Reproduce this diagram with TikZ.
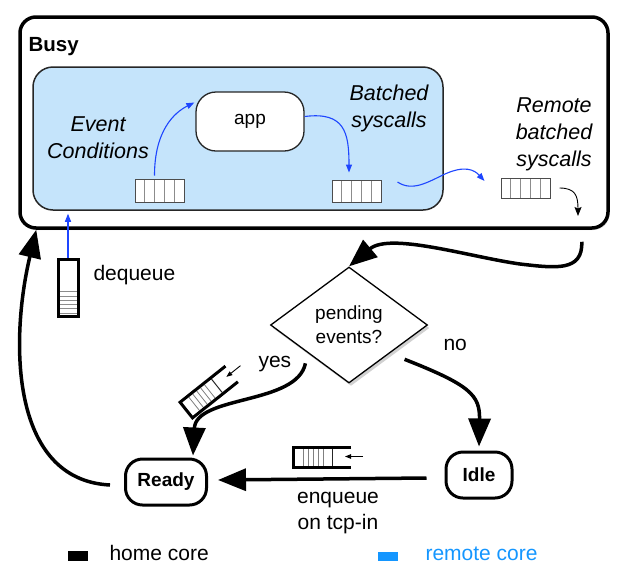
\documentclass[tikz,border=0pt]{standalone}
\usepackage{fontspec}
\setmainfont{Liberation Sans}
\usetikzlibrary{arrows.meta,shapes.geometric,calc,shadows}
\definecolor{panelblue}{RGB}{197,228,251}
\definecolor{arrowblue}{RGB}{30,70,255}
\definecolor{legendblue}{RGB}{20,150,255}
\begin{document}
\begin{tikzpicture}[x=1pt,y=-1pt,
  bigarrow/.style={line width=3.5pt,-{Triangle[length=28pt,width=22pt]}},
  bluearrow/.style={arrowblue,line width=1.1pt,-{Triangle[length=8pt,width=6pt]}},
  thinarrow/.style={line width=0.9pt,-{Stealth[length=9pt,width=7pt,inset=1.5pt]}},
  statebox/.style={draw,line width=3pt,rounded corners=17pt,inner sep=0pt,fill=white,
    font=\fontsize{19}{22}\selectfont\bfseries},
  lbl/.style={font=\fontsize{21}{26}\selectfont,align=center},
  itlbl/.style={font=\fontsize{21.5}{27}\selectfont\itshape,align=center},
  cellqueue/.style={draw=black!70,fill=white,line width=1pt,inner sep=0pt,
    path picture={\foreach \i in {1,...,4}{\draw[black!45,line width=0.8pt]
      ($(path picture bounding box.south west)!\i/5!(path picture bounding box.south east)$) --
      ($(path picture bounding box.north west)!\i/5!(path picture bounding box.north east)$);}}},
  tcpq/.pic={
    \fill[white] (-29,-10) rectangle (12,10);
    \foreach \x in {-19,-14,-9,-4,1}{\draw[black!50,line width=0.8pt] (\x,-8.5) -- (\x,8.5);}
    \draw[black!85,line width=1pt] (10,-8.5) -- (10,8.5);
    \draw[line width=3pt] (29,-10) -- (-29,-10) -- (-29,10) -- (29,10);
    \draw[line width=0.9pt,-{Triangle[length=6pt,width=4.5pt]}] (41,-1) -- (23,-1);
  }
]
\useasboundingbox (0,0) rectangle (631,584);

% Busy box
\node[draw,fill=white,line width=3.5pt,rounded corners=16pt,minimum width=588pt,minimum height=211pt,inner sep=0pt,
  drop shadow={shadow xshift=1.5pt,shadow yshift=-2pt,opacity=0.12,fill=black}] (busy) at (314,122.5) {};
\node[anchor=base west,font=\fontsize{20.5}{24}\selectfont\bfseries] (busylbl) at (25,51) {Busy};

% inner panel
\node[draw=black!85,fill=panelblue,line width=1.5pt,rounded corners=20pt,minimum width=410pt,minimum height=143pt,inner sep=0pt] (inner) at (238,138.5) {};
\node[draw=black!85,fill=white,line width=1.3pt,rounded corners=20pt,minimum width=108pt,minimum height=59pt,inner sep=0pt,font=\fontsize{19}{22}\selectfont] (app) at (250,121.5) {app};

\node[cellqueue,minimum width=49pt,minimum height=23pt] (q1) at (159.5,190.5) {};
\node[cellqueue,minimum width=49pt,minimum height=22pt] (q2) at (356.5,191) {};
\node[cellqueue,minimum width=49pt,minimum height=20pt] (q3) at (525.5,188) {};

\node[itlbl,anchor=base] (evt) at (98,158) {Event\\Conditions};
\node[itlbl,anchor=base] (bat) at (389,127) {Batched\\syscalls};
\node[itlbl,anchor=base] (rem) at (554,166) {Remote\\batched\\syscalls};

% blue arrows
\draw[bluearrow] ([xshift=-5pt,yshift=3pt]q1.north) .. controls +(0,-45) and +(-20,10) .. ([xshift=-1pt,yshift=19pt]app.west);
\draw[bluearrow] ([yshift=5pt]app.east) .. controls +(40,-5) and +(0,-40) .. ([xshift=-7.5pt,yshift=7pt]q2.north);
\draw[bluearrow] ([xshift=16pt,yshift=9pt]q2.east) .. controls +(15,10) and +(-17,8) .. (445,174) .. controls +(20,-9) and +(-10,-11) .. ([xshift=-16pt,yshift=7pt]q3.west);

% remote small arrow
\coordinate (rq) at (578,216);
\draw[thinarrow] ([xshift=9pt]q3.east) .. controls +(16,0) and +(0,-20) .. (rq);

% diamond
\node[draw,diamond,shape aspect=1.35,minimum width=157pt,minimum height=116pt,inner sep=0pt,line width=1.3pt,fill=white,align=center,font=\fontsize{19}{24}\selectfont,
  drop shadow={shadow xshift=2pt,shadow yshift=-3pt,opacity=0.18,fill=black}] (dia) at (349,325) {pending\\events?};

% busy -> diamond
\draw[bigarrow] ([xshift=-28pt,yshift=-12pt]busy.south east) .. controls (583,272) and (555,268) .. (520,264) .. controls (470,257) and (390,232) .. (dia.north);

% states
\node[statebox,minimum width=81pt,minimum height=46pt] (ready) at (166,482) {Ready};
\node[statebox,minimum width=66pt,minimum height=46pt] (idle) at (479,475) {Idle};

\draw[bigarrow] ([xshift=16pt,yshift=-5pt]dia.south east) .. controls (470,385) and (480,395) .. ([yshift=4pt]idle.north);
\draw[bigarrow] ([xshift=-4pt,yshift=-9pt]dia.south west) .. controls (297,405) and (196,395) .. ([xshift=27pt,yshift=2pt]ready.north);
\draw[bigarrow] ([xshift=-18pt,yshift=-3pt]idle.west) -- ([xshift=10pt,yshift=2pt]ready.east);
\draw[bigarrow] ([xshift=-14pt,yshift=-3pt]ready.west) .. controls (10,480) and (10,340) .. ([xshift=18pt]busy.south west);

% labels
\node[lbl,anchor=base west] (nolbl) at (440,350) {no};
\node[lbl,anchor=base west] (yeslbl) at (255,367) {yes};
\node[lbl,anchor=base] (enq) at (338,529) {enqueue\\on tcp-in};

% queues
\pic[rotate=38.5] at (209,392) {tcpq};
\pic at (322,457.5) {tcpq};

% dequeue
\node[draw,line width=3pt,fill=white,minimum width=20pt,minimum height=57pt,inner sep=0pt,
  path picture={\foreach \f in {0.06,0.135,0.21,0.285,0.36,0.435}{\draw[black!45,line width=0.9pt]
    ($(path picture bounding box.south west)!\f!(path picture bounding box.north west)$) --
    ($(path picture bounding box.south east)!\f!(path picture bounding box.north east)$);}}] (deq) at (68,288) {};
\draw[bluearrow] (deq.north) -- ([yshift=-3pt]deq.north |- inner.south);
\node[lbl,anchor=base west] (deqlbl) at (90,280) {dequeue};

% legend
\node[fill=black,minimum width=20pt,minimum height=10pt,inner sep=0pt] (homekey) at (78,556) {};
\node[lbl,anchor=base west] (homelbl) at (106,560) {home core};
\node[fill=legendblue,minimum width=20pt,minimum height=9pt,inner sep=0pt] (remkey) at (388,556.5) {};
\node[lbl,anchor=base west,text=legendblue] (remlbl) at (422,560) {remote core};
\end{tikzpicture}
\end{document}
